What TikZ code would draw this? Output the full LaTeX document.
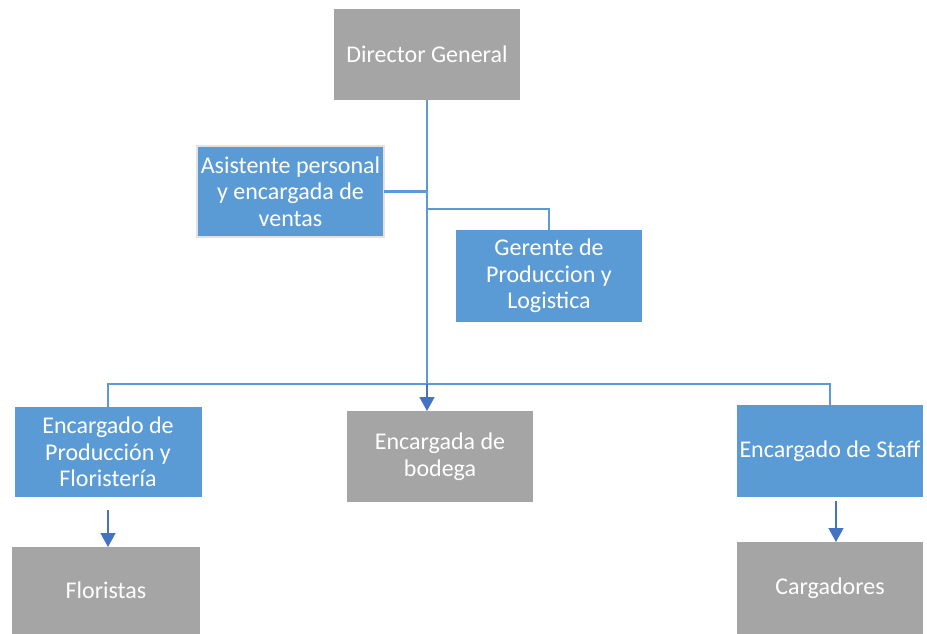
\documentclass[tikz,border=0pt]{standalone}
\usepackage{fontspec}
\setmainfont{Carlito}
\usetikzlibrary{arrows.meta}
\definecolor{gbox}{HTML}{A5A5A5}
\definecolor{bbox}{HTML}{5B9BD5}
\definecolor{lnk}{HTML}{5B9BD5}
\definecolor{arr}{HTML}{4472C4}
\definecolor{edgegray}{HTML}{E2E2E2}
\begin{document}
\begin{tikzpicture}[x=1pt,y=1pt,
 box/.style={minimum width=186pt, minimum height=91pt, inner sep=0pt, outer sep=0pt, text=white, align=center, font=\fontsize{24}{26.5}\selectfont},
 graybox/.style={box, fill=gbox},
 bluebox/.style={box, fill=bbox},
 link/.style={draw=lnk, line width=2.8pt},
 arrowlink/.style={draw=arr, line width=1.5pt, -{Triangle[width=15pt,length=14pt]}}]
\useasboundingbox (0,0) rectangle (927,-634);
\node[graybox] (dir) at (427,-54.5) {Director General};
\node[bluebox, draw=edgegray, line width=2.5pt, minimum width=187pt] (asis) at (290.5,-191.5) {Asistente personal\\y encargada de\\ventas};
\node[bluebox, minimum height=92pt] (ger) at (549,-276) {Gerente de\\Produccion y\\Logistica};
\node[bluebox, minimum width=187pt, minimum height=90pt] (prod) at (108,-452) {Encargado de\\Producción y\\Floristería};
\node[graybox] (bod) at (440,-456.5) {Encargada de\\bodega};
\node[bluebox, minimum height=92pt] (staff) at (830,-451) {Encargado de Staff};
\node[graybox, minimum width=188pt, minimum height=87pt] (flo) at (106,-590.5) {Floristas};
\node[graybox, minimum height=92pt] (carg) at (830,-588) {Cargadores};
\coordinate (j) at (427,-384);
\draw[link] (dir.south) -- (j);
\draw[link] (asis.east) -- (asis.east -| dir.south);
\draw[link] (427,-209) -| (ger.north);
\draw[link] (prod.north) |- (j) -| (staff.north);
\draw[arrowlink] (j) -- (j |- bod.north);
\draw[arrowlink] ([yshift=-13pt]prod.south) -- (prod.south |- flo.north);
\draw[arrowlink] ([xshift=6pt,yshift=-4pt]staff.south) -- ([xshift=6pt]carg.north);
\end{tikzpicture}
\end{document}
